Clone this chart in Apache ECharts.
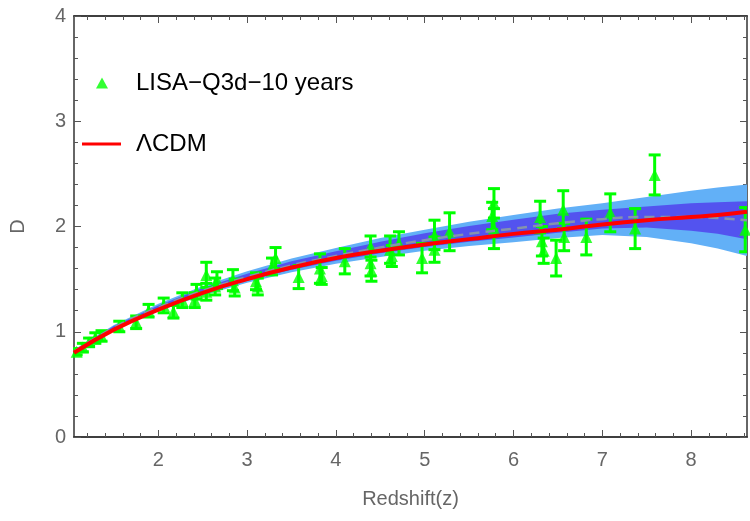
<!DOCTYPE html>
<html>
<head>
<meta charset="utf-8">
<script src="https://cdn.jsdelivr.net/npm/echarts@6/dist/echarts.min.js"></script>
<style>
  html, body { margin: 0; padding: 0; background: #fff; }
  #chart { width: 750px; height: 521px; }
</style>
</head>
<body>
<div id="chart"></div>
<script>
// reconstruction band
var bandZ  = [1.05, 1.5, 2, 2.5, 3, 3.5, 4, 4.5, 5, 5.5, 6, 6.5, 7, 7.5, 8, 8.3, 8.63];
var meanD  = [0.81, 1.04, 1.23, 1.39, 1.52, 1.63, 1.72, 1.80, 1.87, 1.93, 1.98, 2.03, 2.07, 2.09, 2.09, 2.08, 2.06];
var lo1    = [0.80, 1.025, 1.21, 1.365, 1.49, 1.59, 1.675, 1.745, 1.805, 1.855, 1.895, 1.94, 1.98, 1.99, 1.96, 1.93, 1.88];
var hi1    = [0.82, 1.055, 1.25, 1.415, 1.55, 1.67, 1.765, 1.855, 1.935, 2.005, 2.065, 2.12, 2.16, 2.19, 2.22, 2.23, 2.24];
var lo2    = [0.79, 1.015, 1.195, 1.345, 1.465, 1.565, 1.645, 1.71, 1.77, 1.815, 1.85, 1.89, 1.92, 1.90, 1.84, 1.79, 1.72];
var hi2    = [0.83, 1.065, 1.265, 1.435, 1.575, 1.695, 1.795, 1.89, 1.97, 2.045, 2.11, 2.17, 2.22, 2.28, 2.34, 2.37, 2.40];

// LCDM prediction
var lcdmZ  = [1.05, 1.5, 2, 2.5, 3, 3.5, 4, 4.5, 5, 5.5, 6, 6.5, 7, 7.5, 8, 8.3, 8.63];
var lcdmD  = [0.80, 1.02, 1.21, 1.37, 1.50, 1.61, 1.70, 1.77, 1.83, 1.88, 1.93, 1.97, 2.02, 2.06, 2.09, 2.11, 2.14];

// simulated LISA points: z, D, 1-sigma error
var pointZ = [1.08, 1.15, 1.22, 1.29, 1.36, 1.56, 1.75, 1.89, 2.06, 2.17, 2.27, 2.41, 2.43, 2.54, 2.54,
              2.64, 2.66, 2.84, 2.86, 3.10, 3.12, 3.28, 3.32, 3.58, 3.82, 3.84, 4.10, 4.39, 4.39, 4.40,
              4.61, 4.63, 4.71, 4.97, 5.11, 5.11, 5.28, 5.78, 5.76, 5.78, 6.30, 6.32, 6.34, 6.48, 6.56,
              6.57, 6.82, 7.09, 7.37, 7.59, 8.61];
var pointD = [0.81, 0.85, 0.90, 0.94, 0.96, 1.05, 1.09, 1.20, 1.25, 1.19, 1.30, 1.30, 1.38, 1.54, 1.38,
              1.43, 1.49, 1.49, 1.42, 1.48, 1.43, 1.62, 1.70, 1.52, 1.60, 1.53, 1.67, 1.81, 1.65, 1.58,
              1.78, 1.72, 1.84, 1.70, 1.92, 1.78, 1.95, 2.22, 2.10, 1.98, 2.09, 1.86, 1.77, 1.70, 2.16,
              1.90, 1.90, 2.13, 1.98, 2.49, 1.97];
var pointE = [0.03, 0.04, 0.04, 0.05, 0.05, 0.05, 0.06, 0.06, 0.07, 0.06, 0.07, 0.07, 0.07, 0.12, 0.08,
              0.08, 0.08, 0.10, 0.08, 0.08, 0.08, 0.08, 0.10, 0.11, 0.14, 0.08, 0.12, 0.10, 0.12, 0.10,
              0.13, 0.10, 0.11, 0.14, 0.14, 0.12, 0.18, 0.14, 0.13, 0.19, 0.15, 0.14, 0.12, 0.17, 0.18,
              0.13, 0.17, 0.18, 0.19, 0.19, 0.21];

// tick positions
var xMajor = [2, 3, 4, 5, 6, 7, 8];
var xMinor = [1.2, 1.4, 1.6, 1.8, 2.2, 2.4, 2.6, 2.8, 3.2, 3.4, 3.6, 3.8, 4.2, 4.4, 4.6, 4.8,
              5.2, 5.4, 5.6, 5.8, 6.2, 6.4, 6.6, 6.8, 7.2, 7.4, 7.6, 7.8, 8.2, 8.4, 8.6];

var DATA_NAME = 'LISA\u2212Q3d\u221210 years';
var LCDM_NAME = '\u039bCDM';
var FONT = '"Liberation Sans", Arial, sans-serif';
var GREEN = '#00ff00';

function pairs(xs, ys) {
  return xs.map(function (x, i) { return [x, ys[i]]; });
}

// filled region between two curves, drawn once through the axis scales
function bandSeries(name, lower, upper, color) {
  return {
    name: name, type: 'custom', silent: true, clip: true,
    data: [[bandZ[0], lower[0]]],
    renderItem: function (params, api) {
      var pts = [];
      for (var i = 0; i < bandZ.length; i++) pts.push(api.coord([bandZ[i], upper[i]]));
      for (var j = bandZ.length - 1; j >= 0; j--) pts.push(api.coord([bandZ[j], lower[j]]));
      return { type: 'polygon', shape: { points: pts }, style: { fill: color } };
    }
  };
}

function xAxisCfg(pos, ticks, len, labels) {
  return {
    type: 'value', position: pos, min: 1.05, max: 8.63,
    axisLine: { show: true, onZero: false, lineStyle: { color: '#333', width: 1.5 } },
    axisTick: { show: true, inside: true, length: len, customValues: ticks,
                lineStyle: { color: '#555', width: 1 } },
    axisLabel: labels ? { show: true, customValues: xMajor, color: '#666', fontSize: 20,
                          fontFamily: FONT, margin: 13 } : { show: false },
    splitLine: { show: false }
  };
}
function yAxisCfg(pos, labels) {
  return {
    type: 'value', position: pos, min: 0, max: 4, interval: 1,
    axisLine: { show: true, onZero: false, lineStyle: { color: '#333', width: 1.5 } },
    axisTick: { show: true, inside: true, length: 7, lineStyle: { color: '#555', width: 1 } },
    minorTick: { show: true, splitNumber: 5, length: 4, lineStyle: { color: '#555', width: 1 } },
    axisLabel: labels ? { show: true, color: '#666', fontSize: 20, fontFamily: FONT, margin: 8 }
                      : { show: false },
    splitLine: { show: false }
  };
}

var xBottom = xAxisCfg('bottom', xMajor, 7, true);
xBottom.name = 'Redshift(z)';
xBottom.nameLocation = 'middle';
xBottom.nameGap = 52;
xBottom.nameTextStyle = { color: '#666', fontSize: 20, fontFamily: FONT };

var yLeft = yAxisCfg('left', true);
yLeft.name = 'D';
yLeft.nameLocation = 'middle';
yLeft.nameGap = 46;
yLeft.nameTextStyle = { color: '#666', fontSize: 20, fontFamily: FONT };

var option = {
  animation: false,
  backgroundColor: '#fff',
  grid: { left: 64, right: 3, top: 16, bottom: 84 },
  legend: [
    {
      data: [{ name: DATA_NAME, icon: 'triangle' }],
      left: 96, top: 71, padding: 0,
      itemWidth: 12, itemHeight: 11,
      textStyle: { color: '#000', fontSize: 24, fontFamily: FONT, padding: [0, 0, 0, 23] }
    },
    {
      data: [{ name: LCDM_NAME, icon: 'rect' }],
      left: 82, top: 132, padding: 0,
      itemWidth: 39, itemHeight: 3,
      textStyle: { color: '#000', fontSize: 24, fontFamily: FONT, padding: [0, 0, 0, 10] }
    }
  ],
  xAxis: [
    xBottom,
    xAxisCfg('bottom', xMinor, 4, false),
    xAxisCfg('top', xMajor, 7, false),
    xAxisCfg('top', xMinor, 4, false)
  ],
  yAxis: [yLeft, yAxisCfg('right', false)],
  series: [
    bandSeries('band2', lo2, hi2, '#62b0f7'),
    bandSeries('band1', lo1, hi1, '#5353ef'),
    { name: 'mean', type: 'line', data: pairs(bandZ, meanD), smooth: true, symbol: 'none',
      lineStyle: { color: '#8593ad', width: 2.5, type: [10, 6] }, silent: true },
    {
      name: 'errors', type: 'custom',
      data: pointZ.map(function (z, i) { return [z, pointD[i] - pointE[i], pointD[i] + pointE[i]]; }),
      renderItem: function (params, api) {
        var top = api.coord([api.value(0), api.value(2)]);
        var bot = api.coord([api.value(0), api.value(1)]);
        var hw = 6;
        var st = { stroke: GREEN, lineWidth: 3 };
        return {
          type: 'group',
          children: [
            { type: 'line', shape: { x1: top[0], y1: top[1], x2: bot[0], y2: bot[1] }, style: st },
            { type: 'line', shape: { x1: top[0] - hw, y1: top[1], x2: top[0] + hw, y2: top[1] }, style: st },
            { type: 'line', shape: { x1: bot[0] - hw, y1: bot[1], x2: bot[0] + hw, y2: bot[1] }, style: st }
          ]
        };
      },
      clip: true, silent: true
    },
    { name: DATA_NAME, type: 'scatter', data: pairs(pointZ, pointD), symbol: 'triangle',
      symbolSize: 12, itemStyle: { color: GREEN }, clip: true },
    { name: LCDM_NAME, type: 'line', data: pairs(lcdmZ, lcdmD), smooth: true, symbol: 'none',
      itemStyle: { color: '#ff0000' }, lineStyle: { color: '#ff0000', width: 4 } }
  ]
};

var chart = echarts.init(document.getElementById('chart'), null, { renderer: 'canvas' });
chart.setOption(option);
</script>
</body>
</html>
